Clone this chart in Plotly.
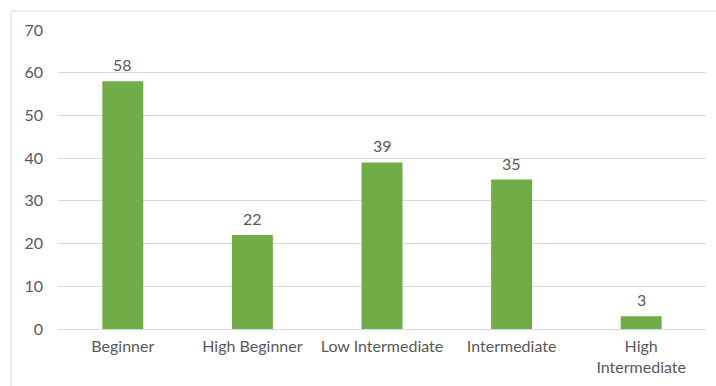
import plotly.graph_objects as go

categories = ["Beginner", "High Beginner", "Low Intermediate", "Intermediate", "High<br>Intermediate"]
values = [58, 22, 39, 35, 3]
y_ticks = [0, 10, 20, 30, 40, 50, 60, 70]

FONT = "Lato, Calibri, Carlito, sans-serif"
GRAY = "#595959"
FS = 16

fig = go.Figure()
fig.add_trace(go.Bar(
    x=categories, y=values,
    marker=dict(color="#70AD47", line=dict(width=0)),
    width=0.316,
    hoverinfo="skip",
))

for c, v in zip(categories, values):
    fig.add_annotation(x=c, y=v, text=str(v), showarrow=False,
                       yanchor="bottom", yshift=5,
                       font=dict(family=FONT, size=FS, color=GRAY))

# chart border (left and top visible)
fig.add_shape(type="line", xref="paper", yref="paper",
              x0=-0.0725, x1=-0.0725, y0=-0.3, y1=1.0635,
              line=dict(color="#D9D9D9", width=1))
fig.add_shape(type="line", xref="paper", yref="paper",
              x0=-0.0725, x1=1.1, y0=1.0635, y1=1.0635,
              line=dict(color="#D9D9D9", width=1))

fig.update_layout(
    width=716, height=386,
    margin=dict(l=58, r=10, t=30, b=57),
    plot_bgcolor="white", paper_bgcolor="white",
    showlegend=False,
    font=dict(family=FONT, size=FS, color=GRAY),
    xaxis=dict(showgrid=False, showline=False, ticks="", tickfont=dict(size=FS, color=GRAY),
               ticklabelstandoff=6),
    yaxis=dict(range=[0, 70], tickvals=y_ticks, showgrid=True, gridcolor="#D9D9D9", gridwidth=1,
               zeroline=True, zerolinecolor="#D9D9D9", zerolinewidth=1,
               showline=False, ticks="", ticklabelstandoff=14,
               tickfont=dict(size=FS, color=GRAY)),
)

fig.write_html("out.html")
